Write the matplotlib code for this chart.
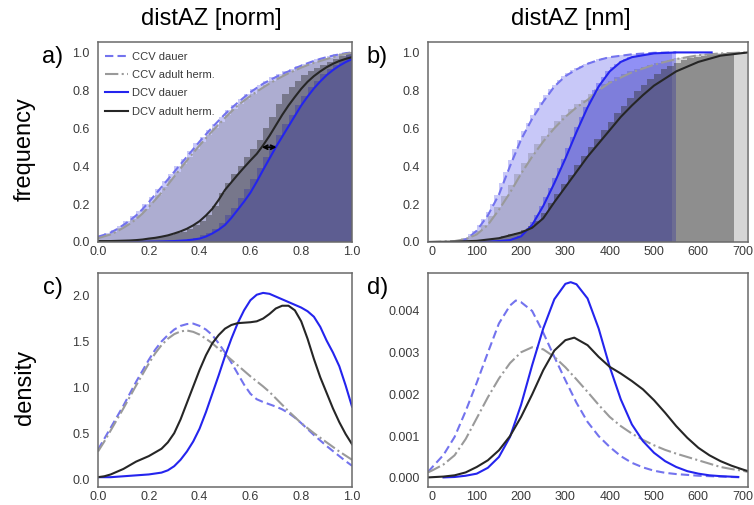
import matplotlib.pyplot as plt
import numpy as np

plt.rcParams['font.family'] = ['Liberation Sans', 'DejaVu Sans']

labels = ['CCV dauer', 'CCV adult herm.', 'DCV dauer', 'DCV adult herm.']

# sample grid of the normalised distance (panels a and c)
norm_x = np.linspace(0, 1, 41)

# ---- a) cumulative, normalised distance: fitted lines
a_ccv_dauer = [0.028, 0.038, 0.05, 0.068, 0.09, 0.113, 0.14, 0.173, 0.21, 0.25, 0.29, 0.33, 0.37, 0.41, 0.45,
               0.49, 0.53, 0.568, 0.605, 0.64, 0.675, 0.706, 0.735, 0.763, 0.79, 0.813, 0.835, 0.853, 0.87,
               0.886, 0.90, 0.916, 0.93, 0.943, 0.955, 0.966, 0.975, 0.983, 0.99, 0.996, 1.0]
a_ccv_adult = [0.02, 0.03, 0.04, 0.056, 0.075, 0.096, 0.12, 0.15, 0.185, 0.222, 0.26, 0.302, 0.345, 0.388, 0.43,
               0.47, 0.51, 0.548, 0.585, 0.62, 0.655, 0.688, 0.72, 0.746, 0.77, 0.793, 0.815, 0.836, 0.855,
               0.873, 0.89, 0.905, 0.92, 0.933, 0.945, 0.955, 0.965, 0.975, 0.985, 0.992, 0.998]
a_dcv_dauer = [0, 0, 0, 0.0005, 0.001, 0.001, 0.001, 0.0015, 0.002, 0.0025, 0.003, 0.004, 0.005, 0.007, 0.009,
               0.013, 0.018, 0.029, 0.045, 0.065, 0.09, 0.127, 0.17, 0.213, 0.26, 0.318, 0.38, 0.44, 0.50,
               0.555, 0.61, 0.665, 0.72, 0.767, 0.81, 0.847, 0.88, 0.907, 0.93, 0.949, 0.965]
a_dcv_adult = [0.005, 0.005, 0.005, 0.006, 0.007, 0.008, 0.01, 0.013, 0.018, 0.022, 0.028, 0.035, 0.045, 0.056,
               0.07, 0.088, 0.11, 0.14, 0.175, 0.222, 0.275, 0.315, 0.355, 0.393, 0.43, 0.465, 0.51, 0.56, 0.615,
               0.67, 0.72, 0.765, 0.808, 0.845, 0.875, 0.9, 0.922, 0.94, 0.955, 0.966, 0.975]

# a) cumulative histograms, 40 bins on (0, 1)
a_hist_ccv_dauer = [0.03, 0.045, 0.065, 0.085, 0.11, 0.135, 0.165, 0.20, 0.24, 0.28, 0.32, 0.36, 0.40, 0.44, 0.48,
                    0.52, 0.555, 0.59, 0.625, 0.66, 0.695, 0.725, 0.755, 0.78, 0.805, 0.83, 0.85, 0.87, 0.885,
                    0.90, 0.915, 0.93, 0.94, 0.952, 0.963, 0.973, 0.982, 0.99, 0.996, 1.0]
a_hist_ccv_adult = [0.03, 0.04, 0.055, 0.075, 0.095, 0.12, 0.145, 0.175, 0.21, 0.25, 0.29, 0.33, 0.37, 0.41, 0.45,
                    0.49, 0.53, 0.565, 0.60, 0.635, 0.67, 0.70, 0.73, 0.755, 0.78, 0.805, 0.83, 0.85, 0.87,
                    0.885, 0.90, 0.915, 0.928, 0.94, 0.952, 0.963, 0.973, 0.983, 0.992, 1.0]
a_hist_dcv_dauer = [0.001, 0.001, 0.001, 0.001, 0.001, 0.001, 0.001, 0.001, 0.002, 0.003, 0.004, 0.005, 0.007,
                    0.01, 0.015, 0.022, 0.035, 0.05, 0.07, 0.10, 0.14, 0.18, 0.23, 0.28, 0.33, 0.39, 0.45, 0.51,
                    0.565, 0.62, 0.67, 0.725, 0.77, 0.815, 0.85, 0.885, 0.91, 0.935, 0.96, 1.0]
a_hist_dcv_adult = [0.003, 0.005, 0.006, 0.007, 0.008, 0.01, 0.013, 0.017, 0.022, 0.028, 0.03, 0.035, 0.045,
                    0.055, 0.07, 0.09, 0.11, 0.14, 0.19, 0.26, 0.31, 0.36, 0.40, 0.45, 0.49, 0.54, 0.60, 0.66,
                    0.73, 0.78, 0.82, 0.85, 0.88, 0.90, 0.92, 0.935, 0.95, 0.965, 0.98, 1.0]
a_hist_range = (0, 1)
arrow_x = [0.645, 0.703]
arrow_y = 0.5

# ---- b) cumulative, distance in nm: fitted lines
b_x_ccv_dauer = [62, 80, 100, 125, 150, 175, 200, 225, 250, 275, 300, 325, 350, 375, 400, 450, 500, 550]
b_ccv_dauer = [0, 0.02, 0.06, 0.14, 0.25, 0.40, 0.54, 0.65, 0.74, 0.82, 0.875, 0.91, 0.94, 0.96, 0.975, 0.99,
               0.998, 1.0]
b_x_ccv_adult = [-10, 25, 50, 75, 100, 125, 150, 175, 200, 225, 250, 275, 300, 325, 350, 375, 400, 450, 500, 550,
                 600, 650, 712]
b_ccv_adult = [0, 0.002, 0.005, 0.015, 0.04, 0.09, 0.17, 0.26, 0.36, 0.45, 0.53, 0.60, 0.66, 0.71, 0.75, 0.80,
               0.84, 0.895, 0.935, 0.965, 0.985, 0.995, 1.0]
b_x_dcv_dauer = [100, 125, 150, 175, 200, 225, 250, 275, 300, 325, 350, 375, 400, 425, 450, 500, 550, 630]
b_dcv_dauer = [0, 0.002, 0.005, 0.01, 0.03, 0.09, 0.19, 0.31, 0.44, 0.58, 0.71, 0.82, 0.90, 0.95, 0.975, 0.995,
               1.0, 1.0]
b_x_dcv_adult = [-10, 50, 100, 150, 200, 225, 250, 275, 300, 325, 350, 375, 400, 425, 450, 475, 500, 550, 600,
                 650, 712]
b_dcv_adult = [0, 0.002, 0.006, 0.02, 0.05, 0.075, 0.125, 0.21, 0.29, 0.37, 0.45, 0.52, 0.59, 0.66, 0.72, 0.775,
               0.825, 0.90, 0.95, 0.983, 1.0]

# b) cumulative histograms on the data range of each series
b_hist_ccv_dauer = [0.01, 0.02, 0.04, 0.06, 0.09, 0.12, 0.16, 0.20, 0.25, 0.31, 0.37, 0.43, 0.49, 0.54, 0.585,
                    0.63, 0.67, 0.705, 0.74, 0.775, 0.805, 0.83, 0.855, 0.875, 0.89, 0.905, 0.917, 0.93, 0.94,
                    0.948, 0.956, 0.963, 0.97, 0.975, 0.978, 0.981, 0.984, 0.987, 0.99, 0.992, 0.994, 0.995,
                    0.996, 0.997, 0.998, 0.999, 0.999, 1.0]
b_hist_ccv_adult = [0.003, 0.005, 0.01, 0.019, 0.034, 0.058, 0.09, 0.135, 0.187, 0.242, 0.30, 0.36, 0.415, 0.467,
                    0.515, 0.56, 0.60, 0.637, 0.67, 0.70, 0.726, 0.75, 0.78, 0.808, 0.832, 0.851, 0.868, 0.885,
                    0.90, 0.912, 0.925, 0.935, 0.945, 0.954, 0.962, 0.97, 0.976, 0.981, 0.986, 0.99, 0.993,
                    0.995, 0.997, 0.998, 0.999, 1.0]
b_hist_dcv_dauer = [0.003, 0.005, 0.007, 0.009, 0.012, 0.019, 0.03, 0.05, 0.075, 0.105, 0.145, 0.19, 0.235, 0.285,
                    0.335, 0.39, 0.44, 0.495, 0.553, 0.607, 0.66, 0.71, 0.757, 0.80, 0.838, 0.87, 0.90, 0.922,
                    0.94, 0.955, 0.966, 0.975, 0.981, 0.986, 0.99, 0.993, 0.995, 0.996, 0.997, 0.998, 0.999, 1.0]
b_hist_dcv_adult = [0.001, 0.002, 0.003, 0.004, 0.006, 0.008, 0.011, 0.016, 0.022, 0.03, 0.04, 0.05, 0.064,
                    0.083, 0.113, 0.155, 0.205, 0.255, 0.305, 0.355, 0.405, 0.455, 0.50, 0.545, 0.59, 0.635, 0.68,
                    0.72, 0.76, 0.795, 0.83, 0.86, 0.885, 0.91, 0.93, 0.945, 0.958, 0.968, 0.976, 0.983, 0.989,
                    0.993, 0.997, 1.0]
b_hist_ranges = [(60, 540), (20, 710), (130, 550), (20, 680)]

# ---- c) density, normalised distance
c_ccv_dauer = [0.32, 0.44, 0.56, 0.68, 0.80, 0.93, 1.06, 1.18, 1.30, 1.41, 1.50, 1.57, 1.63, 1.67, 1.69, 1.695,
               1.67, 1.63, 1.57, 1.48, 1.38, 1.27, 1.15, 1.03, 0.93, 0.87, 0.84, 0.815, 0.79, 0.76, 0.72, 0.67,
               0.61, 0.545, 0.48, 0.42, 0.36, 0.305, 0.25, 0.195, 0.145]
c_ccv_adult = [0.30, 0.41, 0.53, 0.65, 0.77, 0.895, 1.02, 1.14, 1.26, 1.37, 1.46, 1.53, 1.58, 1.61, 1.62, 1.605,
               1.575, 1.53, 1.48, 1.42, 1.36, 1.30, 1.24, 1.18, 1.12, 1.065, 1.01, 0.95, 0.88, 0.81, 0.74, 0.675,
               0.61, 0.555, 0.50, 0.45, 0.40, 0.35, 0.30, 0.255, 0.21]
c_dcv_dauer = [0.02, 0.02, 0.02, 0.025, 0.03, 0.035, 0.04, 0.045, 0.05, 0.06, 0.07, 0.095, 0.14, 0.21, 0.30, 0.41,
               0.55, 0.73, 0.93, 1.13, 1.34, 1.53, 1.70, 1.84, 1.95, 2.01, 2.03, 2.02, 1.99, 1.96, 1.93, 1.90,
               1.87, 1.83, 1.77, 1.66, 1.51, 1.38, 1.23, 1.02, 0.79]
c_dcv_adult = [0.02, 0.03, 0.05, 0.08, 0.11, 0.15, 0.19, 0.22, 0.25, 0.29, 0.33, 0.40, 0.50, 0.65, 0.83, 1.01,
               1.19, 1.35, 1.48, 1.57, 1.64, 1.68, 1.70, 1.705, 1.71, 1.72, 1.75, 1.80, 1.86, 1.89, 1.89, 1.84,
               1.72, 1.53, 1.31, 1.11, 0.94, 0.77, 0.62, 0.49, 0.38]

# ---- d) density, distance in nm
d_x_ccv_dauer = [-10, 0, 25, 50, 75, 100, 125, 150, 175, 188, 200, 225, 250, 275, 300, 325, 350, 375, 400, 425,
                 450, 475, 500, 525, 550, 575, 600, 625, 650, 675, 700]
d_ccv_dauer = [0.00014, 0.00026, 0.00055, 0.00098, 0.0016, 0.00228, 0.003, 0.0037, 0.00413, 0.00425, 0.00421,
               0.004, 0.00348, 0.0029, 0.00234, 0.0018, 0.00134, 0.001, 0.00074, 0.00052, 0.00036, 0.00025,
               0.00017, 0.00012, 0.00009, 0.00007, 0.00005, 0.00004, 0.00003, 0.00002, 0.00001]
d_x_ccv_adult = [-10, 0, 25, 50, 75, 100, 125, 150, 175, 200, 225, 250, 275, 300, 325, 350, 375, 400, 425, 450,
                 475, 500, 525, 550, 575, 600, 625, 650, 675, 700, 712]
d_ccv_adult = [0.00013, 0.00018, 0.00032, 0.00054, 0.00093, 0.00143, 0.00193, 0.00238, 0.00275, 0.00301,
               0.00313, 0.00308, 0.0029, 0.00265, 0.00236, 0.00206, 0.00175, 0.00146, 0.00124, 0.00106,
               0.00091, 0.00078, 0.00067, 0.00058, 0.0005, 0.00042, 0.00034, 0.00026, 0.00021, 0.00017, 0.00014]
d_x_dcv_dauer = [25, 50, 75, 100, 125, 150, 175, 200, 225, 250, 275, 300, 312, 325, 350, 375, 400, 425, 450, 475,
                 500, 525, 550, 575, 600, 625, 650, 690]
d_dcv_dauer = [0.00001, 0.00002, 0.00005, 0.0001, 0.00024, 0.0005, 0.00098, 0.00175, 0.0027, 0.00358, 0.00428,
               0.00465, 0.00469, 0.00464, 0.0043, 0.00358, 0.00266, 0.00188, 0.00128, 0.00088, 0.0006, 0.0004,
               0.00026, 0.00016, 0.0001, 0.00006, 0.00004, 0.00002]
d_x_dcv_adult = [-10, 25, 50, 75, 100, 125, 150, 175, 200, 225, 250, 275, 300, 320, 350, 375, 400, 425, 450, 475,
                 500, 525, 550, 575, 600, 625, 650, 675, 700, 712]
d_dcv_adult = [0.00001, 0.00003, 0.00006, 0.00013, 0.00026, 0.00042, 0.00066, 0.001, 0.00146, 0.002, 0.00258,
               0.00305, 0.0033, 0.00336, 0.00318, 0.0029, 0.00266, 0.0025, 0.00232, 0.00212, 0.00186, 0.00156,
               0.00124, 0.00096, 0.00072, 0.00054, 0.0004, 0.00029, 0.0002, 0.00016]

# styles
line_kw = [dict(color='#7373ee', lw=1.5, dashes=(4, 2)),
           dict(color='#9a9a9a', lw=1.5, linestyle='-.'),
           dict(color='#2424ee', lw=1.5, linestyle='-'),
           dict(color='#262626', lw=1.5, linestyle='-')]
fill_kw = [dict(color='#7070ee', alpha=0.38),
           dict(color='#5e5e5e', alpha=0.25),
           dict(color='#2828f0', alpha=0.35),
           dict(color='#333333', alpha=0.44)]

W, H = 754, 505
fig = plt.figure(figsize=(W / 100, H / 100), dpi=100)


def px_axes(l, t, r, b):
    return fig.add_axes([l / W, 1 - b / H, (r - l) / W, (b - t) / H])


def style(ax):
    for sp in ax.spines.values():
        sp.set_color('#6a6a6a')
        sp.set_linewidth(1.1)
    ax.tick_params(length=0, labelsize=9, labelcolor='#3a3a3a')
    ax.tick_params(axis='y', pad=6)
    ax.tick_params(axis='x', pad=3)


ax_a = px_axes(98, 42, 352, 242)
ax_b = px_axes(428, 42, 748, 242)
ax_c = px_axes(98, 273, 352, 487)
ax_d = px_axes(428, 273, 748, 487)

# a)
hists_a = [a_hist_ccv_dauer, a_hist_ccv_adult, a_hist_dcv_dauer, a_hist_dcv_adult]
for h, fk in zip(hists_a, fill_kw):
    edges = np.linspace(a_hist_range[0], a_hist_range[1], len(h) + 1)
    ax_a.stairs(h, edges, fill=True, baseline=0, lw=0, **fk)
for y, lk, lab in zip([a_ccv_dauer, a_ccv_adult, a_dcv_dauer, a_dcv_adult], line_kw, labels):
    ax_a.plot(norm_x, y, label=lab, **lk)
ax_a.annotate('', xy=(arrow_x[0], arrow_y), xytext=(arrow_x[1], arrow_y),
              arrowprops=dict(arrowstyle='<->', color='black', lw=1.3, shrinkA=0, shrinkB=0,
                              mutation_scale=7))
ax_a.set_xlim(0, 1)
ax_a.set_ylim(0, 1.055)
ax_a.set_xticks(np.arange(0, 1.01, 0.2))
ax_a.set_yticks(np.arange(0, 1.01, 0.2))
leg = ax_a.legend(loc='upper left', frameon=False, fontsize=8, handlelength=2.1, handletextpad=0.35,
                  labelspacing=0.75, borderaxespad=0.2, bbox_to_anchor=(0.0, 0.985))
for t in leg.get_texts():
    t.set_color('#3a3a3a')

# b)
hists_b = [b_hist_ccv_dauer, b_hist_ccv_adult, b_hist_dcv_dauer, b_hist_dcv_adult]
for h, rng, fk in zip(hists_b, b_hist_ranges, fill_kw):
    edges = np.linspace(rng[0], rng[1], len(h) + 1)
    ax_b.stairs(h, edges, fill=True, baseline=0, lw=0, **fk)
for x, y, lk in zip([b_x_ccv_dauer, b_x_ccv_adult, b_x_dcv_dauer, b_x_dcv_adult],
                    [b_ccv_dauer, b_ccv_adult, b_dcv_dauer, b_dcv_adult], line_kw):
    ax_b.plot(x, y, **lk)
ax_b.set_xlim(-10, 712)
ax_b.set_ylim(0, 1.055)
ax_b.set_xticks(np.arange(0, 701, 100))
ax_b.set_yticks(np.arange(0, 1.01, 0.2))

# c)
for y, lk in zip([c_ccv_dauer, c_ccv_adult, c_dcv_dauer, c_dcv_adult], line_kw):
    ax_c.plot(norm_x, y, **lk)
ax_c.set_xlim(0, 1)
ax_c.set_ylim(-0.087, 2.247)
ax_c.set_xticks(np.arange(0, 1.01, 0.2))
ax_c.set_yticks(np.arange(0, 2.01, 0.5))

# d)
for x, y, lk in zip([d_x_ccv_dauer, d_x_ccv_adult, d_x_dcv_dauer, d_x_dcv_adult],
                    [d_ccv_dauer, d_ccv_adult, d_dcv_dauer, d_dcv_adult], line_kw):
    ax_d.plot(x, y, **lk)
ax_d.set_xlim(-10, 712)
ax_d.set_ylim(-0.00022, 0.00491)
ax_d.set_xticks(np.arange(0, 701, 100))
ax_d.set_yticks([0, 0.001, 0.002, 0.003, 0.004])
ax_d.set_yticklabels(['0.000', '0.001', '0.002', '0.003', '0.004'])

for ax in (ax_a, ax_b, ax_c, ax_d):
    style(ax)
for ax in (ax_a, ax_c):
    ax.set_xticklabels(['0.0', '0.2', '0.4', '0.6', '0.8', '1.0'])
ax_a.set_yticklabels(['0.0', '0.2', '0.4', '0.6', '0.8', '1.0'])
ax_b.set_yticklabels(['0.0', '0.2', '0.4', '0.6', '0.8', '1.0'])
ax_c.set_yticklabels(['0.0', '0.5', '1.0', '1.5', '2.0'])

# column titles, row labels and panel letters
fig.text(211 / W, 1 - 19 / H, 'distAZ [norm]', ha='center', va='center', fontsize=17)
fig.text(571 / W, 1 - 19 / H, 'distAZ [nm]', ha='center', va='center', fontsize=17)
fig.text(25 / W, 1 - 149 / H, 'frequency', ha='center', va='center', fontsize=17, rotation=90)
fig.text(25 / W, 1 - 387 / H, 'density', ha='center', va='center', fontsize=17, rotation=90)
for lab, x, y in [('a)', 63, 57), ('b)', 388, 57), ('c)', 63, 288), ('d)', 388, 288)]:
    fig.text(x / W, 1 - y / H, lab, ha='right', va='center', fontsize=17)

fig.savefig('out.png', dpi=100)
